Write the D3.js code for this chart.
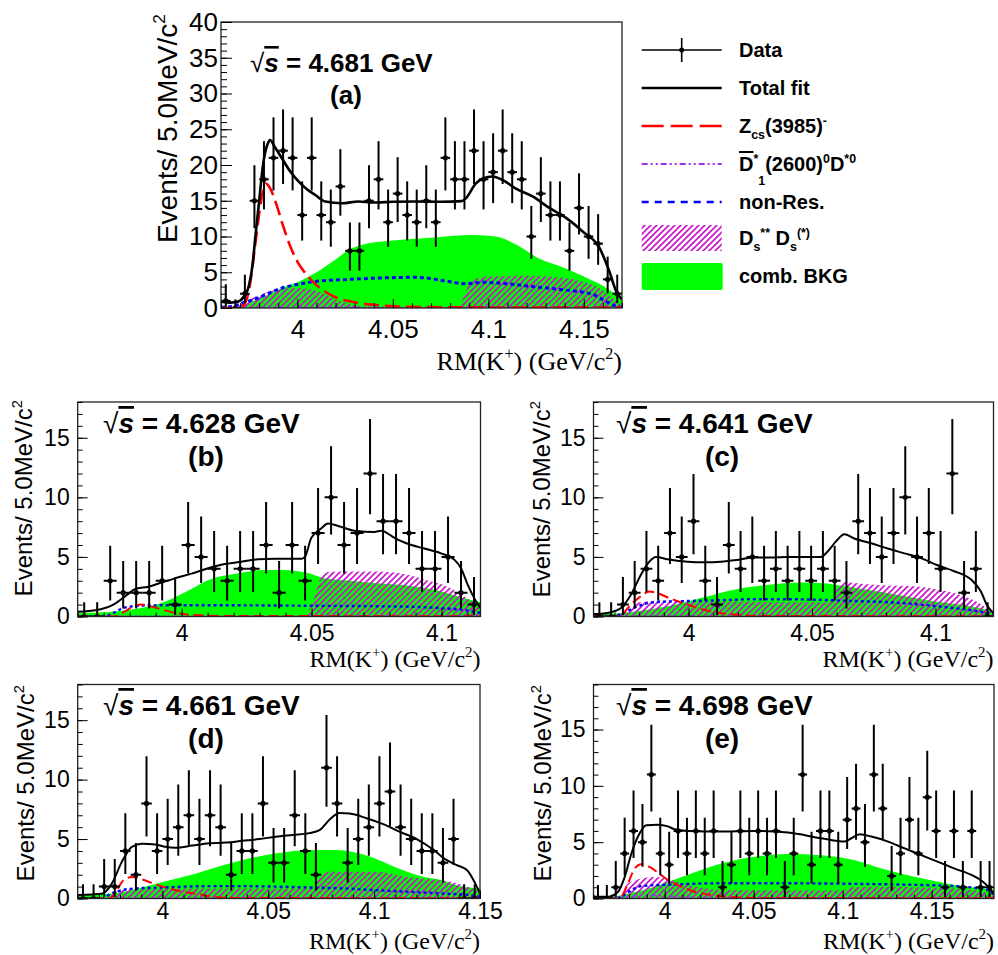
<!DOCTYPE html>
<html>
<head>
<meta charset="utf-8">
<script src="https://cdn.jsdelivr.net/npm/d3@7/dist/d3.min.js"></script>
<style>
  html, body { margin: 0; padding: 0; background: #fff; }
  svg text { font-family: "Liberation Sans", Arial, Helvetica, sans-serif; fill: #000; }
</style>
</head>
<body>
<svg id="chart" width="998" height="955"></svg>
<script>
// ---------------- data ----------------
// histogram ranges in GeV/c^2 and counts per bin
const rangeA = [3.96, 4.17];
const rangeB = [3.96, 4.115];
const rangeC = [3.9615, 4.1235];
const rangeD = [3.96, 4.15];
const rangeE = [3.96, 4.185];

const countsA = [1,0,2,15,18,21,22,21,13,21,13,12,17,8,8,15,18,12,16,13,12,15,12,21,18,18,22,18,19,22,19,18,10,16,13,13,8,14,10,9,4,2];
const countsB = [0,0,3,2,2,2,3,1,6,5,4,3,4,4,6,2,6,3,7,10,6,7,12,8,8,7,4,4,5,2,1];
const countsC = [0,0,1,2,4,3,7,5,8,3,1,6,4,5,3,4,3,4,3,4,3,2,8,7,5,7,10,5,7,4,12,2,4,0];
const countsD = [0,0,1,1,4,2,8,4,5,6,7,5,7,6,2,4,4,8,3,3,7,4,2,11,8,3,5,6,8,9,6,5,4,4,3,5,0,0];
const countsE = [0,0,1,4,6,5,11,4,3,6,4,6,4,6,1,3,6,4,6,4,6,1,4,11,3,6,6,3,7,8,5,11,8,2,4,7,4,9,6,1,6,1,6,1,1];

// fit components, [mass, events] samples
const totalA = [[3.96,0.9],[3.965,0.75],[3.969,0.9],[3.972,1.6],[3.9745,3],[3.9765,6],[3.978,10],[3.98,15],[3.982,20],[3.9845,23],[3.9857,23.5],[3.988,22.6],[3.992,20.9],[3.996,19.2],[4.0006,17.7],[4.005,16.6],[4.0094,15.8],[4.0146,14.9],[4.0234,14.65],[4.032,14.9],[4.04,14.75],[4.05,14.85],[4.062,14.9],[4.075,14.85],[4.086,14.95],[4.0881,15.3],[4.0934,17.4],[4.097,18.1],[4.1022,18.4],[4.1075,17.9],[4.1144,16.7],[4.1232,15.6],[4.1319,14.0],[4.1407,12.6],[4.1494,10.7],[4.1582,8.4],[4.1634,5.1],[4.167,2.3],[4.17,1.2]];
const zcsA = [[3.96,0],[3.969,0],[3.972,0.4],[3.975,3],[3.978,9],[3.981,15],[3.9835,17.4],[3.986,16.6],[3.989,14.5],[3.9925,11.5],[3.996,8.8],[4.0,6.5],[4.005,4.6],[4.01,3.2],[4.015,2.2],[4.02,1.5],[4.03,0.8],[4.04,0.45],[4.05,0.25],[4.07,0.12],[4.1,0.08],[4.17,0.05]];
const d1A = [[3.96,0.03],[3.98,0.08],[4.0,0.1],[4.05,0.08],[4.1,0.06],[4.17,0.03]];
const nonResA = [[3.96,0.1],[3.965,0.2],[3.9725,0.8],[3.9794,1.4],[3.986,2.2],[3.992,2.8],[4.0,3.3],[4.009,3.7],[4.027,4.0],[4.044,4.2],[4.062,4.3],[4.0794,3.7],[4.0881,3.4],[4.097,3.6],[4.105,3.5],[4.123,3.0],[4.1407,2.5],[4.1547,1.9],[4.1617,0.9],[4.167,0.25],[4.17,0.1]];
const dsdsA = [[3.96,0],[3.966,0],[3.972,0.8],[3.98,1.8],[3.99,2.6],[4.0,2.8],[4.01,2.4],[4.02,1.2],[4.03,0.4],[4.04,0.15],[4.084,0.15],[4.087,1.5],[4.091,3.8],[4.1,4.4],[4.12,4.5],[4.14,4.2],[4.149,3.7],[4.158,2.8],[4.165,1.4],[4.17,0.4]];
const combA = [[3.96,0],[3.969,0],[3.972,0.4],[3.976,0.9],[3.985,1.9],[3.992,2.8],[4.0,3.6],[4.0094,4.9],[4.02,6.8],[4.0269,8.1],[4.035,8.9],[4.0444,9.3],[4.0619,9.7],[4.073,9.9],[4.091,10.2],[4.1,10.1],[4.107,9.8],[4.115,8.8],[4.126,7.0],[4.14,5.6],[4.15,4.4],[4.163,2.6],[4.17,1.2]];

const totalB = [[3.96,0.4],[3.9674,0.55],[3.9737,1.0],[3.9789,1.8],[3.982,2.3],[3.9872,2.5],[3.9923,2.85],[3.9974,3.2],[4.0038,3.6],[4.0102,4.05],[4.0166,4.4],[4.023,4.6],[4.0294,4.8],[4.0358,4.85],[4.046,4.85],[4.0474,5.0],[4.0499,6.6],[4.0538,7.4],[4.0563,7.8],[4.0602,7.6],[4.0666,7.2],[4.0742,7.1],[4.0768,7.2],[4.0819,6.6],[4.087,6.1],[4.0934,5.7],[4.0998,5.3],[4.105,4.75],[4.1075,4.05],[4.1101,2.65],[4.1127,1.5],[4.115,0.7]];
const zcsB = [[3.96,0],[3.974,0],[3.978,0.4],[3.9815,0.85],[3.9846,1.0],[3.988,0.85],[3.9923,0.6],[3.9974,0.3],[4.005,0.12],[4.015,0.05],[4.115,0.02]];
const d1B = [[3.96,0.02],[4.115,0.02]];
const nonResB = [[3.96,0],[3.97,0],[3.9737,0.3],[3.978,0.75],[3.985,0.92],[4.0,0.95],[4.03,0.93],[4.05,0.9],[4.08,0.85],[4.1,0.7],[4.11,0.5],[4.115,0.3]];
const dsdsB = [[3.96,0],[4.047,0],[4.05,1.0],[4.054,3.4],[4.057,3.75],[4.075,3.77],[4.087,3.5],[4.095,3.0],[4.1024,2.5],[4.1101,1.5],[4.115,0.9]];
const combB = [[3.96,0.3],[3.97,0.35],[3.979,0.55],[3.9917,1.1],[4.0019,2.1],[4.0109,3.1],[4.0211,3.6],[4.0314,3.9],[4.0391,3.9],[4.0493,3.6],[4.055,3.2],[4.065,3.0],[4.075,2.8],[4.087,2.6],[4.1,2.1],[4.108,1.6],[4.115,1.2]];

const totalC = [[3.9615,0.2],[3.9672,0.3],[3.9726,0.7],[3.9766,1.8],[3.9807,3.5],[3.9841,4.6],[3.9868,5.0],[3.9915,4.8],[3.9996,4.6],[4.0063,4.55],[4.0131,4.6],[4.0198,4.75],[4.0266,4.95],[4.0333,4.95],[4.0401,5.0],[4.0536,5.0],[4.0563,5.45],[4.0597,6.3],[4.0631,6.9],[4.0671,6.55],[4.0739,6.15],[4.0806,5.7],[4.0874,5.3],[4.0941,4.9],[4.1009,4.3],[4.1076,3.8],[4.1144,3.1],[4.1184,2.1],[4.1211,0.85],[4.1235,0.3]];
const zcsC = [[3.9615,0],[3.97,0],[3.9726,0.1],[3.9766,1.0],[3.9807,1.7],[3.9841,2.1],[3.9874,1.95],[3.9928,1.5],[3.9996,1.0],[4.0063,0.56],[4.0131,0.28],[4.0198,0.14],[4.0266,0.05],[4.1235,0.02]];
const d1C = [[3.9615,0.02],[4.1235,0.02]];
const nonResC = [[3.9615,0],[3.969,0],[3.9726,0.2],[3.9793,0.85],[3.9862,1.2],[3.9996,1.3],[4.0131,1.37],[4.0266,1.45],[4.0401,1.45],[4.0536,1.4],[4.0671,1.3],[4.0806,1.2],[4.0941,1.0],[4.1076,0.7],[4.1184,0.4],[4.1235,0.2]];
const dsdsC = [[3.9615,0],[3.97,0],[3.975,0.6],[3.98,1.2],[3.99,1.35],[4.0,1.3],[4.02,1.25],[4.04,1.2],[4.057,1.2],[4.06,2.3],[4.0631,2.9],[4.07,2.75],[4.08,2.6],[4.09,2.55],[4.1,2.3],[4.11,1.8],[4.118,1.1],[4.1235,0.3]];
const combC = [[3.9615,0.2],[3.97,0.25],[3.9779,0.4],[3.9915,0.85],[4.005,1.55],[4.0185,2.25],[4.032,2.65],[4.0455,2.85],[4.055,2.8],[4.06,2.65],[4.08,2.0],[4.1,1.25],[4.118,0.7],[4.1235,0.4]];

const totalD = [[3.96,0.3],[3.9714,0.4],[3.9761,1.25],[3.9809,3.1],[3.9856,4.35],[3.9904,4.6],[3.9967,4.55],[4.0014,4.35],[4.0062,4.27],[4.0141,4.45],[4.022,4.65],[4.0299,4.7],[4.0378,4.85],[4.0457,5.0],[4.0536,5.2],[4.0615,5.35],[4.0694,5.5],[4.0742,5.75],[4.079,6.65],[4.0837,7.2],[4.0885,7.15],[4.0964,6.75],[4.1043,6.25],[4.1122,5.6],[4.1201,5.0],[4.128,4.1],[4.1328,3.4],[4.1391,2.8],[4.1438,2.4],[4.1478,1.25],[4.15,0.4]];
const zcsD = [[3.96,0],[3.974,0],[3.9762,0.1],[3.9785,0.7],[3.9817,1.55],[3.9856,1.8],[3.9904,1.6],[3.9967,1.2],[4.003,0.85],[4.0098,0.56],[4.0177,0.34],[4.0236,0.14],[4.033,0.05],[4.15,0.02]];
const d1D = [[3.96,0.02],[4.15,0.02]];
const nonResD = [[3.96,0],[3.972,0],[3.9746,0.3],[3.9809,0.7],[3.9872,0.85],[3.9998,0.93],[4.022,1.04],[4.0378,1.04],[4.0536,1.0],[4.0694,0.93],[4.0853,0.85],[4.1011,0.7],[4.1169,0.56],[4.1328,0.42],[4.1454,0.28],[4.15,0.14]];
const dsdsD = [[3.96,0],[3.972,0],[3.977,0.5],[3.985,0.8],[4.0,0.85],[4.03,0.85],[4.06,0.85],[4.0714,0.85],[4.0742,1.8],[4.079,2.25],[4.1,2.25],[4.116,1.8],[4.14,1.25],[4.148,0.7],[4.15,0.5]];
const combD = [[3.96,0.3],[3.972,0.35],[3.9812,0.55],[3.997,1.25],[4.0129,1.95],[4.0287,2.8],[4.0445,3.5],[4.0603,3.95],[4.0714,4.07],[4.0809,4.07],[4.0888,3.95],[4.0999,3.4],[4.1078,2.8],[4.1157,2.25],[4.1236,1.8],[4.1315,1.55],[4.1394,1.1],[4.15,0.85]];

const totalE = [[3.96,0.15],[3.9681,0.15],[3.9738,0.6],[3.9775,1.9],[3.9813,4.0],[3.985,5.5],[3.9897,6.5],[3.9962,6.55],[4.0018,6.4],[4.0056,6.15],[4.0131,6.0],[4.0318,5.95],[4.0506,6.0],[4.0693,5.85],[4.088,5.35],[4.1011,5.05],[4.1049,5.35],[4.1096,5.7],[4.1161,5.5],[4.1255,5.05],[4.1348,4.45],[4.1442,3.85],[4.1536,3.25],[4.1629,2.65],[4.1723,2.1],[4.1779,1.6],[4.1817,1.05],[4.185,0.4]];
const zcsE = [[3.96,0],[3.974,0],[3.9756,0.15],[3.9794,1.35],[3.9831,2.65],[3.9869,3.05],[3.9915,2.8],[3.9962,2.3],[4.0018,1.65],[4.0093,1.05],[4.0168,0.6],[4.0262,0.3],[4.0356,0.15],[4.05,0.05],[4.185,0.02]];
const d1E = [[3.96,0.02],[3.976,0.05],[3.988,0.3],[3.998,0.25],[4.015,0.08],[4.185,0.02]];
const nonResE = [[3.96,0],[3.972,0],[3.9756,0.15],[3.9813,0.75],[3.9869,1.1],[4.0056,1.25],[4.0318,1.35],[4.0693,1.35],[4.1067,1.3],[4.1442,1.2],[4.1629,1.1],[4.1817,0.75],[4.185,0.3]];
const dsdsE = [[3.96,0],[3.974,0],[3.9794,1.35],[3.988,1.8],[3.994,1.9],[4.0037,1.65],[4.0131,1.2],[4.0225,0.9],[4.0318,0.75],[4.1,0.7],[4.104,1.0],[4.12,1.05],[4.15,0.95],[4.17,0.8],[4.185,0.4]];
const combE = [[3.96,0.1],[3.97,0.15],[3.9794,0.45],[3.9944,1.05],[4.0131,2.1],[4.0318,3.1],[4.0506,3.7],[4.0693,3.95],[4.088,3.85],[4.1067,3.4],[4.1255,2.5],[4.1442,1.8],[4.1629,1.2],[4.185,0.8]];

// tick labels
const xTicksA = [4, 4.05, 4.1, 4.15];
const xTicksB = [4, 4.05, 4.1];
const xTicksC = [4, 4.05, 4.1];
const xTicksD = [4, 4.05, 4.1, 4.15];
const xTicksE = [4, 4.05, 4.1, 4.15];
const yTicksA = [0, 5, 10, 15, 20, 25, 30, 35, 40];
const yTicksLow = [0, 5, 10, 15];

const energies = ['4.681', '4.628', '4.641', '4.661', '4.698'];
const tags = ['(a)', '(b)', '(c)', '(d)', '(e)'];

// ---------------- layout ----------------
const big = {tick: 26, yTitle: 28, xTitle: 26, title: 26, lw: 2.6, dashRed: '15,6', dashBlue: '4,3',
             yMajor: 11, yMinor: 6, xMajor: 9, xMinor: 5, xPad: 12, yPad: 3};
const small = {tick: 23, yTitle: 24, xTitle: 24, title: 28, lw: 2, dashRed: '10,5', dashBlue: '3,3',
               yMajor: 10, yMinor: 5, xMajor: 8, xMinor: 4, xPad: 8, yPad: 8};

const panels = [
  {id: 'a', s: big, left: 221, right: 622, top: 22, bottom: 308, yMax: 40, range: rangeA, counts: countsA,
   total: totalA, zcs: zcsA, d1: d1A, nonRes: nonResA, dsds: dsdsA, comb: combA, xTicks: xTicksA, yTicks: yTicksA,
   titleX: 250, titleY: 72, tagX: 346, tagY: 104, yTitleX: 177, yTitleEnd: 14, xTitleY: 370},
  {id: 'b', s: small, left: 77.7, right: 480.5, top: 402, bottom: 616.5, yMax: 18, range: rangeB, counts: countsB,
   total: totalB, zcs: zcsB, d1: d1B, nonRes: nonResB, dsds: dsdsB, comb: combB, xTicks: xTicksB, yTicks: yTicksLow,
   titleX: 103, titleY: 433, tagX: 206, tagY: 466, yTitleX: 32, yTitleEnd: 400, xTitleY: 667},
  {id: 'c', s: small, left: 593.5, right: 993.5, top: 402, bottom: 616.5, yMax: 18, range: rangeC, counts: countsC,
   total: totalC, zcs: zcsC, d1: d1C, nonRes: nonResC, dsds: dsdsC, comb: combC, xTicks: xTicksC, yTicks: yTicksLow,
   titleX: 616, titleY: 433, tagX: 722, tagY: 466, yTitleX: 550, yTitleEnd: 401, xTitleY: 667},
  {id: 'd', s: small, left: 77.7, right: 480, top: 684.5, bottom: 898.5, yMax: 18, range: rangeD, counts: countsD,
   total: totalD, zcs: zcsD, d1: d1D, nonRes: nonResD, dsds: dsdsD, comb: combD, xTicks: xTicksD, yTicks: yTicksLow,
   titleX: 103, titleY: 715, tagX: 206, tagY: 748, yTitleX: 34, yTitleEnd: 685, xTitleY: 949, xPad: 4},
  {id: 'e', s: small, left: 593.5, right: 994, top: 684.5, bottom: 898.5, yMax: 19, range: rangeE, counts: countsE,
   total: totalE, zcs: zcsE, d1: d1E, nonRes: nonResE, dsds: dsdsE, comb: combE, xTicks: xTicksE, yTicks: yTicksLow,
   titleX: 616, titleY: 715, tagX: 722, tagY: 748, yTitleX: 551, yTitleEnd: 685, xTitleY: 949, xPad: 4}
];

const GREEN = '#00ff00', RED = '#ff0000', BLUE = '#0000ff', VIOLET = '#a030f0', HATCH = '#cc11cc';

const svg = d3.select('#chart');
const defs = svg.append('defs');

// magenta "////" hatch, transparent between lines
const pat = defs.append('pattern')
  .attr('id', 'hatch')
  .attr('patternUnits', 'userSpaceOnUse')
  .attr('width', 6).attr('height', 6);
pat.append('path')
  .attr('d', 'M-1,1 l2,-2 M0,6 l6,-6 M5,7 l2,-2')
  .attr('stroke', HATCH).attr('stroke-width', 1.6);

// Garwood-like poisson error bars
function errLo(n) { return n > 0 ? n - Math.sqrt(n - 0.25) : 0; }
function errHi(n) { return n > 0 ? n + 1 + Math.sqrt(n + 0.75) : 1.2; }

// text with sub/superscripts: parts = [[text, mode, extra]] mode 0 normal, 1 sup, -1 sub
function rich(textSel, parts, size) {
  let shift = 0;
  parts.forEach(([t, mode, opt]) => {
    const target = mode === 1 ? -0.42 * size : mode === -1 ? (opt && opt.deep ? 0.7 : 0.3) * size : 0;
    const ts = textSel.append('tspan')
      .attr('dy', target - shift)
      .attr('font-size', mode ? size * 0.62 : size)
      .text(t);
    if (opt && opt.over) ts.style('text-decoration', 'overline');
    shift = target;
  });
}

function drawPanel(p) {
  const s = p.s;
  const x = d3.scaleLinear().domain(p.range).range([p.left, p.right]);
  const y = d3.scaleLinear().domain([0, p.yMax]).range([p.bottom, p.top]);
  const g = svg.append('g').attr('class', 'panel-' + p.id);

  defs.append('clipPath').attr('id', 'clip-' + p.id)
    .append('rect')
    .attr('x', p.left).attr('y', p.top)
    .attr('width', p.right - p.left).attr('height', p.bottom - p.top);
  const plot = g.append('g').attr('clip-path', `url(#clip-${p.id})`);

  const area = d3.area().x(d => x(d[0])).y0(y(0)).y1(d => y(d[1])).curve(d3.curveMonotoneX);
  const line = d3.line().x(d => x(d[0])).y(d => y(d[1])).curve(d3.curveMonotoneX);

  // comb. BKG (solid green)
  plot.append('path').attr('d', area(p.comb)).attr('fill', GREEN);
  // Ds** Ds(*) (hatched)
  plot.append('path').attr('d', area(p.dsds)).attr('fill', 'url(#hatch)');
  // non-Res
  plot.append('path').attr('d', line(p.nonRes))
    .attr('fill', 'none').attr('stroke', BLUE).attr('stroke-width', s.lw + 0.4)
    .attr('stroke-dasharray', s.dashBlue);
  // D1*(2600) D*0
  plot.append('path').attr('d', line(p.d1))
    .attr('fill', 'none').attr('stroke', VIOLET).attr('stroke-width', 1.6)
    .attr('stroke-dasharray', '6,3,2,3,2,3');
  // Zcs(3985)
  plot.append('path').attr('d', line(p.zcs))
    .attr('fill', 'none').attr('stroke', RED).attr('stroke-width', s.lw)
    .attr('stroke-dasharray', s.dashRed);
  // total fit
  plot.append('path').attr('d', line(p.total))
    .attr('fill', 'none').attr('stroke', '#000').attr('stroke-width', s.lw)
    .attr('stroke-linejoin', 'round');

  // data points
  const bw = (p.range[1] - p.range[0]) / p.counts.length;
  const pts = p.counts.map((n, i) => ({lo: p.range[0] + i * bw, c: p.range[0] + (i + 0.5) * bw, hi: p.range[0] + (i + 1) * bw, n}));
  const dg = plot.append('g').attr('stroke', '#000').attr('stroke-width', 2);
  dg.selectAll('.ey').data(pts).join('line').attr('class', 'ey')
    .attr('x1', d => x(d.c)).attr('x2', d => x(d.c))
    .attr('y1', d => y(errLo(d.n))).attr('y2', d => y(errHi(d.n)));
  dg.selectAll('.ex').data(pts).join('line').attr('class', 'ex')
    .attr('x1', d => x(d.lo)).attr('x2', d => x(d.hi))
    .attr('y1', d => y(d.n)).attr('y2', d => y(d.n));
  plot.append('g').selectAll('circle').data(pts).join('circle')
    .attr('cx', d => x(d.c)).attr('cy', d => y(d.n)).attr('r', 2.6).attr('fill', '#000');

  // frame
  g.append('rect')
    .attr('x', p.left).attr('y', p.top)
    .attr('width', p.right - p.left).attr('height', p.bottom - p.top)
    .attr('fill', 'none').attr('stroke', '#222').attr('stroke-width', 1.3);

  // axes: ticks point into the frame
  const xMinor = d3.range(Math.ceil(p.range[0] * 100 - 1e-6), Math.floor(p.range[1] * 100 + 1e-6) + 1).map(k => k / 100);
  const yMinor = d3.range(0, p.yMax + 1);
  const xPad = p.xPad !== undefined ? p.xPad : s.xPad;

  g.append('g').attr('transform', `translate(0,${p.bottom})`)
    .call(d3.axisBottom(x).tickValues(xMinor).tickSize(-s.xMinor).tickFormat(''))
    .call(a => a.select('.domain').remove());
  const xa = g.append('g').attr('transform', `translate(0,${p.bottom})`)
    .call(d3.axisBottom(x).tickValues(p.xTicks).tickSize(-s.xMajor).tickPadding(xPad).tickFormat(d => String(d)))
    .call(a => a.select('.domain').remove());
  xa.selectAll('text').attr('font-size', s.tick).attr('font-family', null);

  g.append('g').attr('transform', `translate(${p.left},0)`)
    .call(d3.axisLeft(y).tickValues(yMinor).tickSize(-s.yMinor).tickFormat(''))
    .call(a => a.select('.domain').remove());
  const ya = g.append('g').attr('transform', `translate(${p.left},0)`)
    .call(d3.axisLeft(y).tickValues(p.yTicks).tickSize(-s.yMajor).tickPadding(s.yPad))
    .call(a => a.select('.domain').remove());
  ya.selectAll('text').attr('font-size', s.tick).attr('font-family', null);
  g.selectAll('.tick line').attr('stroke', '#000').attr('stroke-width', 1);

  // axis titles
  const yt = g.append('text')
    .attr('transform', `translate(${p.yTitleX},${p.yTitleEnd}) rotate(-90)`)
    .attr('text-anchor', 'end');
  rich(yt, [['Events/ 5.0MeV/c', 0], ['2', 1]], s.yTitle);

  const xt = g.append('text')
    .attr('x', p.right).attr('y', p.xTitleY)
    .attr('text-anchor', 'end')
    .style('font-family', '"Liberation Serif", "Times New Roman", serif');
  rich(xt, [['RM(K', 0], ['+', 1], [') (GeV/c', 0], ['2', 1], [')', 0]], s.xTitle);

  // energy label and panel tag
  const t = g.append('text').attr('x', p.titleX).attr('y', p.titleY)
    .attr('font-size', s.title).attr('font-weight', 'bold');
  t.append('tspan').attr('font-weight', 'normal').text('\u221A');
  t.append('tspan').attr('font-style', 'italic').style('text-decoration', 'overline').text('s');
  t.append('tspan').text(' = ' + energies[panels.indexOf(p)] + ' GeV');

  g.append('text').attr('x', p.tagX).attr('y', p.tagY)
    .attr('text-anchor', 'middle')
    .attr('font-size', s.title).attr('font-weight', 'bold')
    .text(tags[panels.indexOf(p)]);
}

panels.forEach(drawPanel);

// ---------------- legend ----------------
const lg = svg.append('g').attr('class', 'legend');
const lx1 = 641.7, lx2 = 721.7, ltx = 739, lfs = 20;
const rowY = [50, 88, 126, 164, 202, 238, 276];

// Data
lg.append('line').attr('x1', lx1).attr('x2', lx2).attr('y1', rowY[0]).attr('y2', rowY[0])
  .attr('stroke', '#000').attr('stroke-width', 1.6);
lg.append('line').attr('x1', (lx1 + lx2) / 2).attr('x2', (lx1 + lx2) / 2).attr('y1', rowY[0] - 12).attr('y2', rowY[0] + 12)
  .attr('stroke', '#000').attr('stroke-width', 1.6);
lg.append('circle').attr('cx', (lx1 + lx2) / 2).attr('cy', rowY[0]).attr('r', 2.5).attr('fill', '#000');
// Total fit
lg.append('line').attr('x1', lx1).attr('x2', lx2).attr('y1', rowY[1]).attr('y2', rowY[1])
  .attr('stroke', '#000').attr('stroke-width', 2.6);
// Zcs
lg.append('line').attr('x1', lx1).attr('x2', lx2).attr('y1', rowY[2]).attr('y2', rowY[2])
  .attr('stroke', RED).attr('stroke-width', 2.6).attr('stroke-dasharray', '22,7');
// D1*
lg.append('line').attr('x1', lx1).attr('x2', lx2).attr('y1', rowY[3]).attr('y2', rowY[3])
  .attr('stroke', VIOLET).attr('stroke-width', 2.2).attr('stroke-dasharray', '6,3,2,3,2,3');
// non-Res
lg.append('line').attr('x1', lx1).attr('x2', lx2).attr('y1', rowY[4]).attr('y2', rowY[4])
  .attr('stroke', BLUE).attr('stroke-width', 2.6).attr('stroke-dasharray', '7,6');
// Ds** Ds(*)
lg.append('rect').attr('x', lx1).attr('y', rowY[5] - 13).attr('width', lx2 - lx1).attr('height', 26)
  .attr('fill', 'url(#hatch)');
// comb. BKG
lg.append('rect').attr('x', lx1).attr('y', rowY[6] - 13).attr('width', lx2 - lx1 + 1).attr('height', 27)
  .attr('rx', 2).attr('fill', GREEN);

const legendText = [
  [['Data', 0]],
  [['Total fit', 0]],
  [['Z', 0], ['cs', -1], ['(3985)', 0], ['-', 1]],
  [['D', 0, {over: true}], ['*', 1], ['1', -1, {deep: true}], ['(2600)', 0], ['0', 1], ['D', 0], ['*0', 1]],
  [['non-Res.', 0]],
  [['D', 0], ['s', -1], ['**', 1], [' D', 0], ['s', -1], ['(*)', 1]],
  [['comb. BKG', 0]]
];
legendText.forEach((parts, i) => {
  const t = lg.append('text').attr('x', ltx).attr('y', rowY[i] + 7)
    .attr('font-size', lfs).attr('font-weight', 'bold');
  rich(t, parts, lfs);
});
</script>
</body>
</html>
